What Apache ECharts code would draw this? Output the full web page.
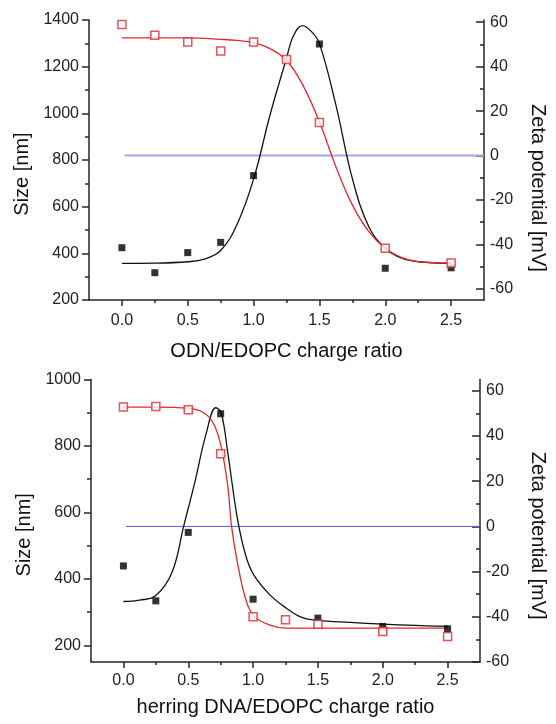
<!DOCTYPE html>
<html>
<head>
<meta charset="utf-8">
<script src="https://cdn.jsdelivr.net/npm/echarts@6/dist/echarts.min.js"></script>
<style>
  html, body { margin: 0; padding: 0; background: #fff; }
  #chart { width: 556px; height: 724px; }
</style>
</head>
<body>
<div id="chart"></div>
<script>
document.addEventListener('DOMContentLoaded', function() {

    const ratio = [0, 0.25, 0.5, 0.75, 1.0, 1.25, 1.5, 2.0, 2.5];
    const sizeRatio = [0, 0.25, 0.5, 0.75, 1.0, 1.5, 2.0, 2.5];

    const odnSize = [424, 317, 403, 447, 733, 1297, 336, 338];
    const odnZeta = [59, 54.1, 51.1, 47.0, 51.1, 43.2, 14.9, -41.7, -48.4];
    const dnaSize = [439, 334, 540, 897, 339, 282, 257, 250];
    const dnaZeta = [52.8, 53.0, 51.6, 32.1, -40, -41.3, -43.3, -46.5, -48.7];

    // fitted curves
    const odnSizeFitX = [0, 0.25, 0.5, 0.625, 0.75, 0.875, 1.0, 1.125, 1.25, 1.3, 1.37, 1.44, 1.5, 1.625, 1.75, 1.875, 2.0, 2.125, 2.25, 2.5];
    const odnSizeFit = [357, 358, 364, 375, 412, 525, 718, 993, 1236, 1329, 1376, 1350, 1300, 1036, 721, 514, 422, 379, 364, 357];
    const odnZetaFitX = [0, 0.25, 0.5, 0.75, 0.875, 1.0, 1.125, 1.25, 1.375, 1.5, 1.625, 1.75, 1.875, 2.0, 2.125, 2.25, 2.5];
    const odnZetaFit = [53, 53, 53, 52.3, 51.8, 50.8, 48.1, 42.9, 31.6, 15.2, -5, -22.2, -34.2, -41.7, -45.9, -47.7, -48.4];

    const dnaSizeFitX = [0, 0.125, 0.25, 0.375, 0.465, 0.55, 0.64, 0.713, 0.754, 0.804, 0.879, 0.942, 1.005, 1.13, 1.256, 1.375, 1.5, 1.75, 2.0, 2.25, 2.5];
    const dnaSizeFit = [332, 336, 350, 420, 559, 690, 840, 915, 900, 782, 582, 472, 412, 352, 312, 284, 275, 269, 264, 260, 257];
    const dnaZetaFitX = [0, 0.25, 0.5, 0.625, 0.7, 0.754, 0.804, 0.834, 0.879, 0.942, 1.005, 1.13, 1.256, 1.5, 2.0, 2.5];
    const dnaZetaFit = [52.8, 52.8, 52.3, 50.1, 44.9, 35.2, 18.2, 0, -15.9, -32, -39.6, -43.7, -45, -45, -45, -45];

    const zeroLineX = [0.02, 2.75];

    // tick labels
    const xMajor = [0, 0.5, 1.0, 1.5, 2.0, 2.5];
    const xMinor = [0.25, 0.75, 1.25, 1.75, 2.25];
    const odnSizeMajor = [200, 400, 600, 800, 1000, 1200, 1400];
    const odnSizeMinor = [300, 500, 700, 900, 1100, 1300];
    const dnaSizeMajor = [200, 400, 600, 800, 1000];
    const dnaSizeMinor = [300, 500, 700, 900];
    const zetaMajor = [-60, -40, -20, 0, 20, 40, 60];
    const zetaMinor = [-50, -30, -10, 10, 30, 50];

    const font = 'Liberation Sans, Arial, sans-serif';
    const ink = '#262626';
    const red = '#e0282e';

    const pairs = (xs, ys) => ys.map((y, i) => [xs[i], y]);

    const xMain = (grid, name, gap, margin) => ({
        type: 'value', gridIndex: grid, min: -0.25, max: 2.75,
        name: name, nameLocation: 'middle', nameGap: gap,
        nameTextStyle: { fontFamily: font, fontSize: 20, color: '#111' },
        axisLine: { onZero: false, lineStyle: { color: ink, width: 1.5 } },
        axisTick: { customValues: xMajor, length: 6, lineStyle: { color: ink, width: 1.5 } },
        axisLabel: { customValues: xMajor, formatter: v => v.toFixed(1), margin: margin,
            fontFamily: font, fontSize: 16, color: '#222' },
        splitLine: { show: false }
    });

    const xMinorAxis = (grid) => ({
        type: 'value', gridIndex: grid, min: -0.25, max: 2.75, position: 'bottom',
        axisLine: { show: false, onZero: false },
        axisTick: { customValues: xMinor, length: 3, lineStyle: { color: ink, width: 1.5 } },
        axisLabel: { show: false },
        splitLine: { show: false }
    });

    const yMain = (grid, side, min, max, ticks, name, gap, pad) => ({
        type: 'value', gridIndex: grid, position: side, min: min, max: max,
        name: name, nameLocation: 'middle', nameGap: gap,
        nameRotate: side === 'left' ? 90 : -90,
        nameTextStyle: { fontFamily: font, fontSize: 20, color: '#111', padding: pad },
        axisLine: { show: true, onZero: false, lineStyle: { color: ink, width: 1.5 } },
        axisTick: { customValues: ticks, inside: side === 'right', length: side === 'right' ? 8 : 7,
            lineStyle: { color: ink, width: 1.5 } },
        axisLabel: { customValues: ticks, formatter: v => String(v), margin: side === 'right' ? 6 : 10,
            fontFamily: font, fontSize: 16, color: '#222' },
        splitLine: { show: false }
    });

    const yMinorAxis = (grid, side, min, max, ticks) => ({
        type: 'value', gridIndex: grid, position: side, min: min, max: max,
        axisLine: { show: false, onZero: false },
        axisTick: { customValues: ticks, inside: side === 'right', length: 4,
            lineStyle: { color: ink, width: 1.5 } },
        axisLabel: { show: false },
        splitLine: { show: false }
    });

    const curve = (x, y, xs, ys, color) => ({
        type: 'line', xAxisIndex: x, yAxisIndex: y, data: pairs(xs, ys),
        showSymbol: false, smooth: 0.4, silent: true,
        lineStyle: { color: color, width: 1.3 }
    });

    const blackDots = (x, y, ys) => ({
        type: 'scatter', xAxisIndex: x, yAxisIndex: y, data: pairs(sizeRatio, ys),
        symbol: 'rect', symbolSize: 7, itemStyle: { color: '#000' }, z: 4
    });

    const redBoxes = (x, y, ys) => ({
        type: 'scatter', xAxisIndex: x, yAxisIndex: y, data: pairs(ratio, ys),
        symbol: 'rect', symbolSize: 8,
        itemStyle: { color: '#fff', borderColor: red, borderWidth: 1.5 }, z: 5
    });

    const zeroLine = (x, y, color, width) => ({
        type: 'line', xAxisIndex: x, yAxisIndex: y, data: pairs(zeroLineX, [0, 0]),
        showSymbol: false, silent: true, lineStyle: { color: color, width: width }, z: 1
    });

    const chart = echarts.init(document.getElementById('chart'));

    chart.setOption({
        animation: false,
        backgroundColor: '#fff',
        grid: [
            { left: 89, top: 20, width: 398, height: 280 },
            { left: 91, top: 379.5, width: 397, height: 282.5 }
        ],
        xAxis: [
            xMain(0, 'ODN/EDOPC charge ratio', 41, 13),
            xMinorAxis(0),
            xMain(1, 'herring DNA/EDOPC charge ratio', 35, 11),
            xMinorAxis(1)
        ],
        yAxis: [
            yMain(0, 'left', 200, 1400, odnSizeMajor, 'Size [nm]', 56, [0, 28, 0, 0]),
            yMinorAxis(0, 'left', 200, 1400, odnSizeMinor),
            yMain(0, 'right', -65, 61, zetaMajor, 'Zeta potential [mV]', 44, [0, 0, 0, 56]),
            yMinorAxis(0, 'right', -65, 61, zetaMinor),
            yMain(1, 'left', 150, 1000, dnaSizeMajor, 'Size [nm]', 51, [0, 28, 0, 0]),
            yMinorAxis(1, 'left', 150, 1000, dnaSizeMinor),
            yMain(1, 'right', -60, 65, zetaMajor, 'Zeta potential [mV]', 48, [0, 0, 0, 30]),
            yMinorAxis(1, 'right', -60, 65, zetaMinor)
        ],
        series: [
            zeroLine(0, 2, '#aaa6e6', 2),
            curve(0, 0, odnSizeFitX, odnSizeFit, '#111'),
            curve(0, 2, odnZetaFitX, odnZetaFit, red),
            blackDots(0, 0, odnSize),
            redBoxes(0, 2, odnZeta),

            zeroLine(2, 6, '#5a5ad0', 1),
            curve(2, 4, dnaSizeFitX, dnaSizeFit, '#111'),
            curve(2, 6, dnaZetaFitX, dnaZetaFit, red),
            blackDots(2, 4, dnaSize),
            redBoxes(2, 6, dnaZeta)
        ]
    });

});
</script>
</body>
</html>
